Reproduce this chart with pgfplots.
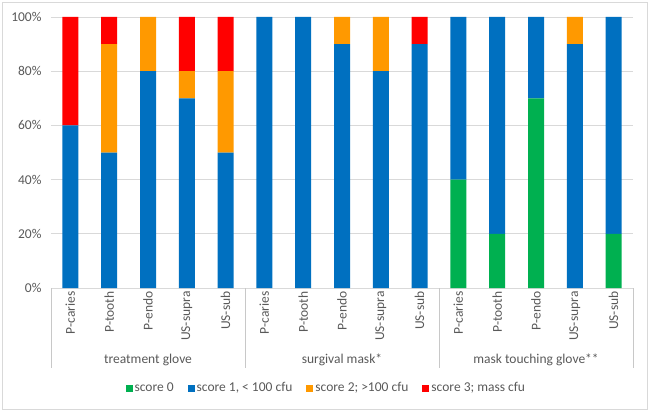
\documentclass[border=0pt]{standalone}
\usepackage{pgfplots}
\pgfplotsset{compat=1.18}
\usepackage{pgfplotstable}
\usepackage{fontspec}
\setmainfont{Carlito}
\definecolor{sA}{RGB}{0,176,80}
\definecolor{sB}{RGB}{0,112,192}
\definecolor{sC}{RGB}{255,153,0}
\definecolor{sD}{RGB}{255,0,0}
\definecolor{txtc}{RGB}{89,89,89}
\definecolor{gridc}{RGB}{217,217,217}
\definecolor{sepc}{RGB}{200,200,200}
\pgfplotstableread{
x s0 s1 s2 s3
0 0 60 0 40
1 0 50 40 10
2 0 80 20 0
3 0 70 10 20
4 0 50 30 20
5 0 100 0 0
6 0 100 0 0
7 0 90 10 0
8 0 80 20 0
9 0 90 0 10
10 40 60 0 0
11 20 80 0 0
12 70 30 0 0
13 0 90 10 0
14 20 80 0 0
}\data
\begin{document}
\begin{tikzpicture}[font=\fontsize{13.5bp}{15bp}\selectfont]
\path[use as bounding box] (-51bp,-123bp) rectangle (598bp,288bp);
\draw[gridc] (-49bp,-121bp) rectangle (596bp,286bp);
\begin{axis}[
  at={(0,0)}, anchor=south west,
  scale only axis, width=582bp, height=271bp,
  ybar stacked, bar width=16bp,
  xmin=-0.5, xmax=14.5, ymin=0, ymax=100,
  ytick={0,20,...,100},
  xtick={0,...,14},
  xticklabels={P-caries,P-tooth,P-endo,US-supra,US-sub,P-caries,P-tooth,P-endo,US-supra,US-sub,P-caries,P-tooth,P-endo,US-supra,US-sub},
  xticklabel style={rotate=90, anchor=east, text=txtc},
  yticklabel style={text=txtc, xshift=-6bp},
  /pgf/number format/assume math mode=true,
  yticklabel={\pgfmathprintnumber{\tick}\%},
  major tick length=0pt,
  ymajorgrids, grid style={draw=gridc, line width=0.8pt},
  axis line style={draw=none},
  clip=false,
  legend style={at={(0.473,-0.369)}, anchor=center, draw=none, fill=none, legend columns=4, text=txtc,
    /tikz/every even column/.append style={column sep=12bp}},
  legend image code/.code={\fill[#1] (0bp,-3.5bp) rectangle (7bp,3.5bp);},
]
\addplot[fill=sA, draw=none] table[x=x,y=s0]{\data};
\addplot[fill=sB, draw=none] table[x=x,y=s1]{\data};
\addplot[fill=sC, draw=none] table[x=x,y=s2]{\data};
\addplot[fill=sD, draw=none] table[x=x,y=s3]{\data};
\legend{score 0,{score 1, < 100 cfu},{score 2; >100 cfu},{score 3; mass cfu}}
\end{axis}
\foreach \xx in {0,194,388,582} {\draw[sepc, line width=0.8pt] (\xx bp,0) -- (\xx bp,-80bp);}
\node[text=txtc] at (97bp,-72bp) {treatment glove};
\node[text=txtc] at (291bp,-72bp) {surgival mask*};
\node[text=txtc] at (485bp,-72bp) {mask touching glove**};
\end{tikzpicture}
\end{document}
